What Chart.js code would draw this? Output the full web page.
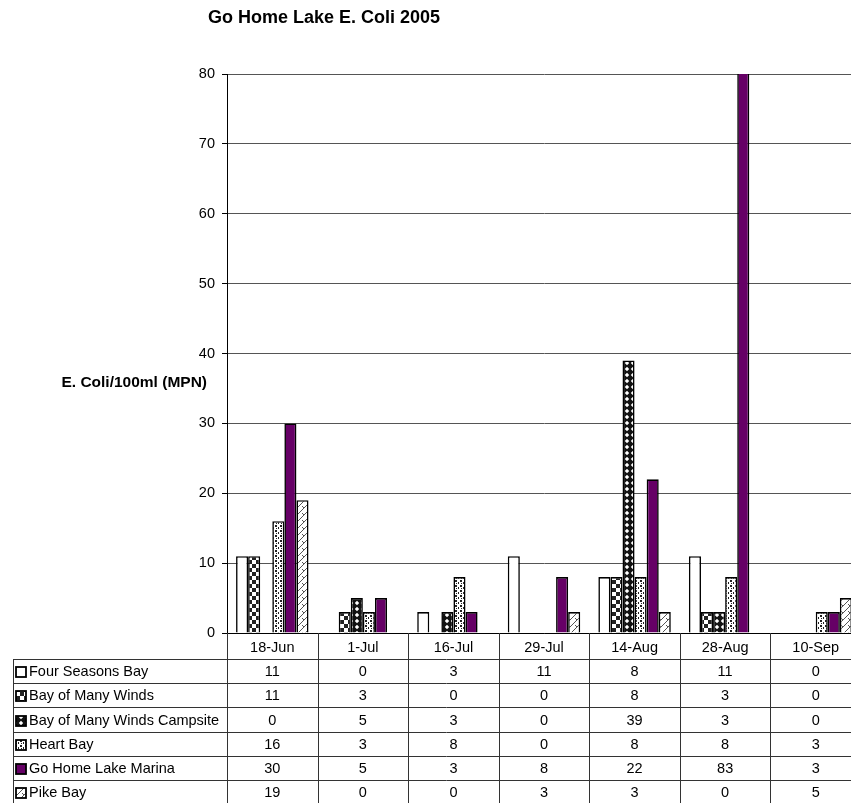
<!DOCTYPE html>
<html>
<head>
<meta charset="utf-8">
<title>Go Home Lake E. Coli 2005</title>
<script src="https://cdn.jsdelivr.net/npm/chart.js@4/dist/chart.umd.min.js"></script>
<style>
  html, body { margin: 0; padding: 0; background: #fff; overflow: hidden; }
  #wrap { width: 880px; height: 803px; }
</style>
</head>
<body>
<div id="wrap"><canvas id="chart" width="880" height="803"></canvas></div>
<script>
const dates = ["18-Jun", "1-Jul", "16-Jul", "29-Jul", "14-Aug", "28-Aug", "10-Sep"]
const siteNames = [
  "Four Seasons Bay",
  "Bay of Many Winds",
  "Bay of Many Winds Campsite",
  "Heart Bay",
  "Go Home Lake Marina",
  "Pike Bay",
]
const fourSeasonsBay = [11, 0, 3, 11, 8, 11, 0]
const bayOfManyWinds = [11, 3, 0, 0, 8, 3, 0]
const manyWindsCampsite = [0, 5, 3, 0, 39, 3, 0]
const heartBay = [16, 3, 8, 0, 8, 8, 3]
const marina = [30, 5, 3, 8, 22, 83, 3]
const pikeBay = [19, 0, 0, 3, 3, 0, 5]
const yTicks = [0, 10, 20, 30, 40, 50, 60, 70, 80]

const chartTitle = "Go Home Lake E. Coli 2005"
const yTitle = "E. Coli/100ml (MPN)"

const FONT = "'Liberation Sans', Arial, sans-serif"
Chart.defaults.font.family = FONT
Chart.defaults.color = "#000"

const canvas = document.getElementById("chart")
const mainCtx = canvas.getContext("2d")

// Fill patterns, drawn on small tiles
const makePattern = (size, draw) => {
  const tile = document.createElement("canvas")
  tile.width = size
  tile.height = size
  const t = tile.getContext("2d")
  t.fillStyle = "#fff"
  t.fillRect(0, 0, size, size)
  draw(t, size)
  return mainCtx.createPattern(tile, "repeat")
}

const diamond = (t, cx, cy, r) => {
  t.beginPath()
  t.moveTo(cx, cy - r)
  t.lineTo(cx + r, cy)
  t.lineTo(cx, cy + r)
  t.lineTo(cx - r, cy)
  t.closePath()
  t.fill()
}

const fills = [
  "#fff",
  makePattern(8, (t) => {
    t.fillStyle = "#222"
    t.fillRect(0, 0, 4, 4)
    t.fillRect(4, 4, 4, 4)
  }),
  makePattern(6, (t) => {
    // black field with white diamonds
    t.fillStyle = "#111"
    t.fillRect(0, 0, 6, 6)
    t.fillStyle = "#fff"
    diamond(t, 3, 3, 2.2)
  }),
  makePattern(5, (t) => {
    t.fillStyle = "#222"
    t.fillRect(0, 0, 2, 2)
    t.fillRect(3, 2, 1, 2)
    t.fillRect(1, 3, 1, 1)
  }),
  "#660066",
  makePattern(7, (t) => {
    t.strokeStyle = "#555"
    t.lineWidth = 1
    t.beginPath()
    t.moveTo(-1, 8)
    t.lineTo(8, -1)
    t.moveTo(1, 2)
    t.lineTo(3, 4)
    t.stroke()
  }),
]

const seriesValues = [fourSeasonsBay, bayOfManyWinds, manyWindsCampsite, heartBay, marina, pikeBay]

const datasets = siteNames.map((name, i) => ({
  label: name,
  data: seriesValues[i],
  backgroundColor: fills[i],
  borderColor: "#000",
  borderWidth: 1.6,
  categoryPercentage: 0.8,
  barPercentage: 1.0,
}))

// Title, horizontal y title and the data table under the x axis
const TABLE_LEFT = 13
const HEADER_BOTTOM = 659
const ROW_H = 24.2

const extrasPlugin = {
  id: "extras",
  afterDraw(chart) {
    const { ctx, chartArea, scales: { x } } = chart
    const right = chart.width
    ctx.save()

    // chart title
    ctx.fillStyle = "#000"
    ctx.font = `bold 18px ${FONT}`
    ctx.textAlign = "left"
    ctx.textBaseline = "alphabetic"
    ctx.fillText(chartTitle, 208, 23)

    // y axis title, horizontal
    ctx.font = `bold 15.5px ${FONT}`
    ctx.textAlign = "right"
    ctx.fillText(yTitle, 207, 387)

    // table grid
    const bottom = HEADER_BOTTOM + ROW_H * siteNames.length
    ctx.strokeStyle = "#333"
    ctx.lineWidth = 1
    ctx.beginPath()
    for (let r = 0; r <= siteNames.length; r++) {
      const y = Math.round(HEADER_BOTTOM + r * ROW_H) + 0.5
      ctx.moveTo(TABLE_LEFT, y)
      ctx.lineTo(right, y)
    }
    ctx.moveTo(TABLE_LEFT + 0.5, HEADER_BOTTOM)
    ctx.lineTo(TABLE_LEFT + 0.5, bottom)
    for (let i = 0; i <= dates.length; i++) {
      const xx = Math.round(x.getPixelForValue(i - 0.5)) + 0.5
      ctx.moveTo(xx, chartArea.bottom)
      ctx.lineTo(xx, bottom)
    }
    ctx.stroke()

    // rows: legend key, name, values
    ctx.font = `14.5px ${FONT}`
    ctx.textBaseline = "middle"
    siteNames.forEach((name, r) => {
      const cy = HEADER_BOTTOM + r * ROW_H + ROW_H / 2 + 1
      ctx.fillStyle = fills[r]
      ctx.fillRect(16, Math.round(cy - 5), 10, 10)
      ctx.strokeStyle = "#000"
      ctx.lineWidth = 1.8
      ctx.strokeRect(16, Math.round(cy - 5), 10, 10)
      ctx.fillStyle = "#000"
      ctx.textAlign = "left"
      ctx.fillText(name, 29, cy)
      ctx.textAlign = "center"
      seriesValues[r].forEach((v, i) => {
        ctx.fillText(String(v), x.getPixelForValue(i), cy)
      })
    })
    ctx.restore()
  },
}

new Chart(canvas, {
  type: "bar",
  data: { labels: dates, datasets },
  plugins: [extrasPlugin],
  options: {
    responsive: false,
    animation: false,
    layout: { padding: { top: 74, right: 19, left: 0, bottom: 0 } },
    plugins: {
      legend: { display: false },
      title: { display: false },
      tooltip: { enabled: false },
    },
    scales: {
      x: {
        grid: { drawOnChartArea: false, drawTicks: false },
        border: { color: "#000", width: 1 },
        ticks: { font: { size: 14.5 }, color: "#000", padding: 6, maxRotation: 0 },
        afterFit: (scale) => {
          scale.height = 170
        },
      },
      y: {
        min: 0,
        max: 80,
        afterBuildTicks: (scale) => {
          scale.ticks = yTicks.map((value) => ({ value }))
        },
        grid: { color: "#555", tickColor: "#000", tickLength: 5 },
        border: { color: "#000", width: 1 },
        ticks: { font: { size: 14.5 }, color: "#000", padding: 7 },
        afterFit: (scale) => {
          scale.width = 227
        },
      },
    },
  },
})
</script>
</body>
</html>
